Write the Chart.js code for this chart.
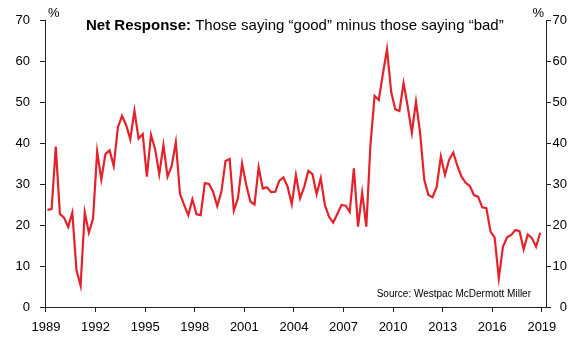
<!DOCTYPE html>
<html>
<head>
<meta charset="utf-8">
<script src="https://cdn.jsdelivr.net/npm/chart.js@4.4.1/dist/chart.umd.min.js"></script>
<style>
  body { margin: 0; background: #fff; }
  canvas { display: block; }
</style>
</head>
<body>
<canvas id="chart" width="587" height="340"></canvas>
<script>
/* quarterly net response, 1989 Q1 .. 2018 Q4 */
const firstYear = 1989;
const netResponse = [
  23.7, 23.9, 39.1, 22.7, 21.8, 19.5, 23.0, 9.0, 5.2, 23.1,
  18.1, 21.5, 37.9, 31.1, 37.3, 38.2, 34.4, 43.8, 46.6, 44.4,
  40.9, 47.9, 41.1, 42.2, 31.8, 42.0, 38.5, 32.4, 39.5, 31.8,
  34.4, 40.2, 27.6, 24.9, 22.4, 26.3, 22.6, 22.4, 30.2, 30.0,
  28.1, 24.6, 28.1, 35.6, 36.1, 23.5, 26.5, 35.0, 29.8, 25.7,
  25.0, 34.1, 28.9, 29.2, 28.0, 28.1, 30.8, 31.6, 29.3, 25.1,
  32.2, 26.5, 29.3, 33.2, 32.4, 27.5, 31.4, 24.9, 22.0, 20.6,
  22.7, 24.9, 24.7, 23.2, 33.8, 19.6, 27.9, 19.6, 39.5, 51.5,
  50.5, 56.8, 62.9, 52.5, 48.2, 47.8, 54.6, 48.9, 42.5, 50.1,
  42.4, 31.0, 27.3, 26.8, 29.3, 36.7, 32.2, 35.9, 37.7, 34.4,
  31.8, 30.3, 29.5, 27.3, 26.9, 24.3, 24.1, 18.4, 16.9, 7.0,
  14.7, 17.0, 17.6, 18.8, 18.5, 14.1, 17.7, 16.8, 14.7, 18.1
];
const yearTicks = [1989, 1992, 1995, 1998, 2001, 2004, 2007, 2010, 2013, 2016, 2019];
const valueTicks = [0, 10, 20, 30, 40, 50, 60, 70];

const titleBold = 'Net Response:';
const titleText = ' Those saying \u201cgood\u201d minus those saying \u201cbad\u201d';
const sourceText = 'Source: Westpac McDermott Miller';

const fontFamily = '"Liberation Sans", Arial, sans-serif';
const axisColor = '#222';

const points = netResponse.map((v, i) => ({ x: firstYear + 0.09 + i * 0.2505, y: v }));

/* title, % markers and source note */
const textPlugin = {
    id: 'textPlugin',
    afterDraw(chart) {
        const ctx = chart.ctx;
        const area = chart.chartArea;
        ctx.save();
        ctx.fillStyle = '#000';
        ctx.textBaseline = 'alphabetic';
        ctx.textAlign = 'left';

        ctx.font = 'bold 15px ' + fontFamily;
        const boldW = ctx.measureText(titleBold).width;
        ctx.fillText(titleBold, 86, 30);
        ctx.font = '15px ' + fontFamily;
        ctx.fillText(titleText, 86 + boldW, 30);

        ctx.font = '13px ' + fontFamily;
        ctx.fillText('%', area.left + 3, 17);
        ctx.textAlign = 'right';
        ctx.fillText('%', area.right - 2, 17);

        ctx.font = '10px ' + fontFamily;
        ctx.fillText(sourceText, 531, 297);
        ctx.restore();
    }
};

const valueAxis = (position) => ({
    position: position,
    min: 0,
    max: 70,
    afterBuildTicks: (scale) => { scale.ticks = valueTicks.map(v => ({ value: v })); },
    grid: { drawOnChartArea: false, drawTicks: true, tickLength: 5, color: axisColor },
    border: { display: true, color: axisColor, width: 1 },
    ticks: {
        color: '#000',
        font: { family: fontFamily, size: 13 },
        padding: position === 'left' ? 10 : 0,
        crossAlign: position === 'left' ? 'near' : 'far'
    },
    afterFit: (scale) => { scale.width = position === 'left' ? 45 : 21; }
});

new Chart(document.getElementById('chart'), {
    type: 'line',
    data: {
        datasets: [{
            data: points,
            borderColor: '#e3222b',
            borderWidth: 2.2,
            pointRadius: 0,
            tension: 0,
            yAxisID: 'y'
        }]
    },
    options: {
        responsive: false,
        animation: false,
        devicePixelRatio: 1,
        layout: { padding: { top: 20, right: 20, left: 0, bottom: 0 } },
        plugins: { legend: { display: false }, tooltip: { enabled: false } },
        scales: {
            x: {
                type: 'linear',
                min: 1988.94,
                max: 2019.25,
                afterBuildTicks: (scale) => { scale.ticks = yearTicks.map(v => ({ value: v })); },
                grid: { drawOnChartArea: false, drawTicks: true, tickLength: 5, color: axisColor },
                border: { display: true, color: axisColor, width: 1 },
                ticks: {
                    color: '#000',
                    font: { family: fontFamily, size: 13 },
                    padding: 8,
                    maxRotation: 0,
                    autoSkip: false,
                    callback: (v) => String(v)
                },
                afterFit: (scale) => { scale.height = 33; }
            },
            y: valueAxis('left'),
            y2: valueAxis('right')
        }
    },
    plugins: [textPlugin]
});
</script>
</body>
</html>
